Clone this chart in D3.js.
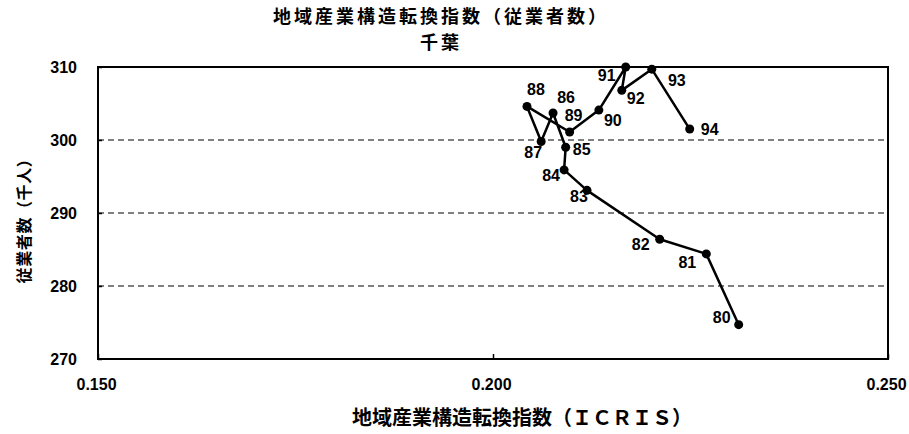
<!DOCTYPE html>
<html>
<head>
<meta charset="utf-8">
<script src="https://cdn.jsdelivr.net/npm/d3@7"></script>
<style>
	body { margin: 0; background: #fff; }
	svg { display: block; }
	.axis text { font-family: "Liberation Sans", Arial, sans-serif; font-weight: bold; font-size: 16px; fill: #000; }
	.axis path { display: none; }
	.axis line { stroke: #000; stroke-width: 1.5; }
	.grid line { stroke: #000; stroke-width: 1; stroke-dasharray: 6,4; }
	.title { font-family: "Noto Sans CJK JP", sans-serif; font-weight: bold; dominant-baseline: central; }
	.lbl { font-family: "Liberation Sans", Arial, sans-serif; font-weight: bold; font-size: 16px; }
</style>
</head>
<body>
<svg width="909" height="434"></svg>
<script>
// 年 (19xx) 、ICRIS 、従業者数(千人)
var years = ["80", "81", "82", "83", "84", "85", "86", "87", "88", "89", "90", "91", "92", "93", "94"];
var icris = [0.2311, 0.2270, 0.2211, 0.2119, 0.2090, 0.2092, 0.2076, 0.2061, 0.2043, 0.2097, 0.2134, 0.2168, 0.2163, 0.2201, 0.2249];
var workers = [274.7, 284.4, 286.4, 293.1, 295.9, 299.0, 303.7, 299.8, 304.6, 301.1, 304.1, 310.0, 306.8, 309.7, 301.5];
var xTicks = [0.150, 0.200, 0.250];
var yTicks = [270, 280, 290, 300, 310];

// label offsets from the point (px)
var labelOffset = [[-17, -7], [-19, 9], [-19, 5], [-8, 6], [-13, 5], [16, 2], [13, -16], [-8, 11],
	[9, -17], [4, -17], [14, 10], [-19, 8], [14, 8], [25, 11], [20, 0]];

var svg = d3.select("svg");
var margin = {top: 67, right: 21, bottom: 75, left: 98};
var width = 909 - margin.left - margin.right,
	height = 434 - margin.top - margin.bottom;

var x = d3.scaleLinear().domain([0.15, 0.25]).range([0, width]);
var y = d3.scaleLinear().domain([270, 310]).range([height, 0]);

var g = svg.append("g")
	.attr("transform", "translate(" + margin.left + "," + margin.top + ")");

g.append("g")
	.attr("class", "grid")
	.selectAll("line")
	.data(yTicks.filter(function(d) { return d > 270 && d < 310; }))
	.enter().append("line")
	.attr("x1", 0)
	.attr("x2", width)
	.attr("y1", function(d) { return y(d); })
	.attr("y2", function(d) { return y(d); });

g.append("rect")
	.attr("width", width)
	.attr("height", height)
	.attr("fill", "none")
	.attr("stroke", "#000")
	.attr("stroke-width", 2);

g.append("g")
	.attr("class", "axis axis--y")
	.call(d3.axisLeft(y).tickValues(yTicks).tickSize(-4).tickPadding(21).tickFormat(d3.format("d")));

g.append("g")
	.attr("class", "axis axis--x")
	.attr("transform", "translate(0," + height + ")")
	.call(d3.axisBottom(x).tickValues(xTicks).tickSize(-5).tickPadding(20).tickFormat(d3.format(".3f")));

g.selectAll(".axis--x text").attr("dx", -2);

var pts = years.map(function(d, i) { return {year: d, x: icris[i], y: workers[i], off: labelOffset[i]}; });

g.append("path")
	.datum(pts)
	.attr("fill", "none")
	.attr("stroke", "#000")
	.attr("stroke-width", 2.5)
	.attr("stroke-linejoin", "round")
	.attr("d", d3.line()
		.x(function(d) { return x(d.x); })
		.y(function(d) { return y(d.y); }));

g.selectAll(".dot")
	.data(pts)
	.enter().append("circle")
	.attr("class", "dot")
	.attr("cx", function(d) { return x(d.x); })
	.attr("cy", function(d) { return y(d.y); })
	.attr("r", 4.5)
	.attr("fill", "#000");

g.selectAll(".lbl")
	.data(pts)
	.enter().append("text")
	.attr("class", "lbl")
	.attr("text-anchor", "middle")
	.attr("dy", "0.35em")
	.attr("x", function(d) { return x(d.x) + d.off[0]; })
	.attr("y", function(d) { return y(d.y) + d.off[1]; })
	.text(function(d) { return d.year; });

svg.append("text")
	.attr("class", "title")
	.attr("x", 441)
	.attr("y", 15)
	.attr("text-anchor", "middle")
	.style("font-size", "18px")
	.style("letter-spacing", "3px")
	.text("地域産業構造転換指数（従業者数）");

svg.append("text")
	.attr("class", "title")
	.attr("x", 441)
	.attr("y", 41)
	.attr("text-anchor", "middle")
	.style("font-size", "18px")
	.style("letter-spacing", "3px")
	.text("千葉");

svg.append("text")
	.attr("class", "title")
	.attr("x", 522)
	.attr("y", 416)
	.attr("text-anchor", "middle")
	.style("font-size", "20px")
	.text("地域産業構造転換指数（ＩＣＲＩＳ）");

svg.append("text")
	.attr("class", "title")
	.attr("transform", "translate(23,217) rotate(-90)")
	.attr("text-anchor", "middle")
	.style("font-size", "16px")
	.style("letter-spacing", "0.6px")
	.text("従業者数（千人）");
</script>
</body>
</html>
